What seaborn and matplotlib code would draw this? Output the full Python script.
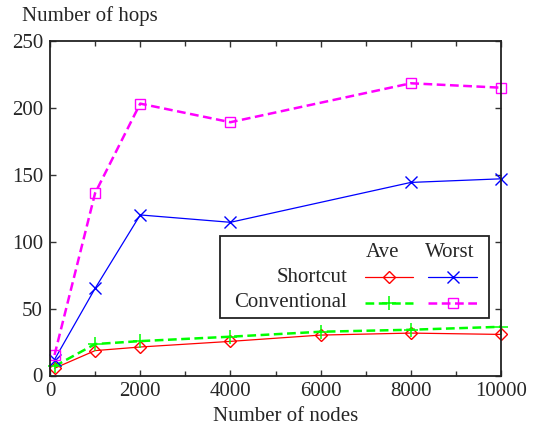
import matplotlib
matplotlib.use("Agg")
import matplotlib.pyplot as plt
import seaborn as sns
import pandas as pd
from matplotlib.lines import Line2D
from matplotlib.patches import Rectangle

# ---- data ----
nodes_all = [100, 1000, 2000, 4000, 6000, 8000, 10000]
nodes_worst = [100, 1000, 2000, 4000, 8000, 10000]
shortcut_ave = [5.4, 18.6, 21.3, 25.5, 30.2, 31.7, 30.7]
conventional_ave = [6.9, 23.5, 25.7, 29.0, 32.7, 34.2, 36.4]
shortcut_worst = [11.9, 65.1, 120.0, 114.5, 144.3, 147.0]
conventional_worst = [15.3, 136.3, 203.2, 189.3, 218.4, 215.1]
x_ticks = [0, 2000, 4000, 6000, 8000, 10000]
y_ticks = [0, 50, 100, 150, 200, 250]

sns.set_style("ticks")
plt.rcParams['font.family'] = ['Liberation Serif', 'DejaVu Serif']
FS = 15

fig = plt.figure(figsize=(5.33, 4.30), dpi=100)
ax = fig.add_axes([50/533, 1 - 375.5/430, 451/533, 334.5/430])

series = [
    (nodes_all, shortcut_ave, dict(color="#ff0000", lw=0.9, marker="D", ms=6.5,
                                    mfc="none", mec="#ff0000", mew=1.0, linestyle="-")),
    (nodes_all, conventional_ave, dict(color="#00ff00", lw=1.8, marker="+", ms=10,
                                        mec="#00ff00", mew=1.1, linestyle=(0, (3.5, 1.8)))),
    (nodes_worst, shortcut_worst, dict(color="#0000ff", lw=0.9, marker="x", ms=8.5,
                                        mec="#0000ff", mew=1.0, linestyle="-")),
    (nodes_worst, conventional_worst, dict(color="#ff00ff", lw=1.8, marker="s", ms=7.5,
                                            mfc="none", mec="#ff00ff", mew=1.0,
                                            linestyle=(0, (3.5, 1.8)))),
]
for xs, ys, kw in series:
    df = pd.DataFrame({"x": xs, "y": ys})
    sns.lineplot(data=df, x="x", y="y", ax=ax, legend=False, clip_on=False, **kw)

ax.set_xlim(0, 10000)
ax.set_ylim(0, 250)
ax.set_xticks(x_ticks)
ax.set_xticks(range(1000, 10000, 2000), minor=True)
ax.set_yticks(y_ticks)
ax.set_xticklabels([str(v) for v in x_ticks], fontsize=FS)
ax.set_yticklabels([str(v) for v in y_ticks], fontsize=FS)
ax.tick_params(which="both", direction="in", top=True, right=True, width=1.0, color="#333333")
ax.tick_params(which="major", length=4.5, pad=5)
ax.tick_params(which="minor", length=3.5)
for s in ax.spines.values():
    s.set_linewidth(1.3)
    s.set_color("#222222")

ax.set_xlabel("Number of nodes", fontsize=FS)
ax.xaxis.set_label_coords(0.523, -0.095)
ax.set_ylabel("")
fig.text(22/533, 1 - 16/430, "Number of hops", fontsize=FS, ha="left", va="center")

# ---- legend (gnuplot-style key) ----
T = ax.transAxes
ax.add_patch(Rectangle((0.377, 0.173), 0.597, 0.244, transform=T, fill=True,
                       facecolor="white", edgecolor="#222222", lw=1.3, zorder=5))
ax.text(0.738, 0.369, "Ave", transform=T, fontsize=FS, ha="center", va="center", zorder=6)
ax.text(0.887, 0.369, "Worst", transform=T, fontsize=FS, ha="center", va="center", zorder=6)
ax.text(0.659, 0.294, "Shortcut", transform=T, fontsize=FS, ha="right", va="center", zorder=6)
ax.text(0.659, 0.217, "Conventional", transform=T, fontsize=FS, ha="right", va="center", zorder=6)
cols = [(0.698, 0.805), (0.838, 0.947)]
rows = [0.294, 0.217]
keys = [[series[0][2], series[2][2]], [series[1][2], series[3][2]]]
for ri, yrow in enumerate(rows):
    for ci, (xa, xb) in enumerate(cols):
        kw = dict(keys[ri][ci])
        ax.add_line(Line2D([xa, xb], [yrow, yrow], transform=T, zorder=6,
                           color=kw["color"], lw=kw["lw"], linestyle=kw["linestyle"]))
        mk = {k: v for k, v in kw.items() if k in ("marker", "ms", "mfc", "mec", "mew")}
        ax.add_line(Line2D([(xa + xb) / 2], [yrow], transform=T, zorder=7,
                           color=kw["color"], linestyle="none", **mk))

fig.savefig("out.png", dpi=100)
